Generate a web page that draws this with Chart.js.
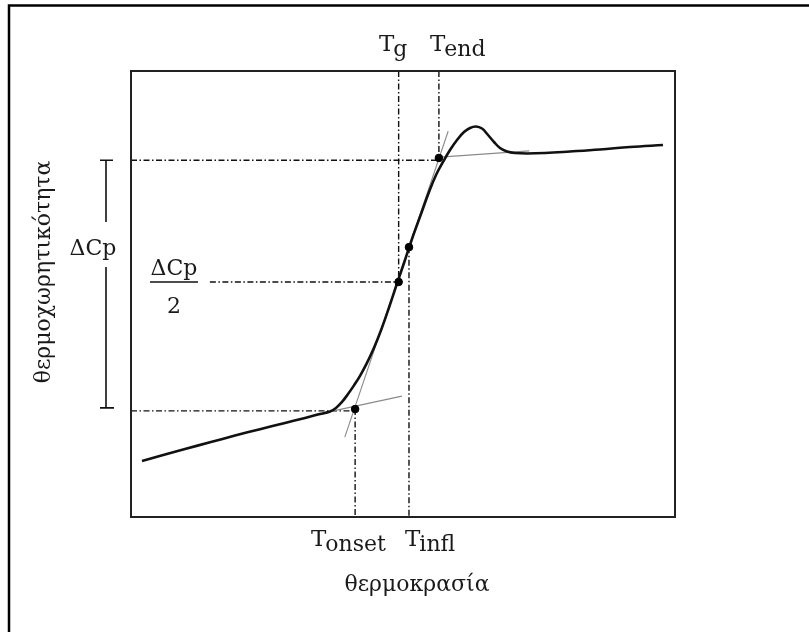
<!DOCTYPE html>
<html><head><meta charset="utf-8">
<script src="https://cdn.jsdelivr.net/npm/chart.js@4/dist/chart.umd.min.js"></script>
<style>html,body{margin:0;padding:0;background:#fff;}canvas{display:block;}</style>
</head><body>
<canvas id="c" width="809" height="632"></canvas>
<script>
// Arbitrary units: temperature 0..100 (x), heat capacity 0..100 (y)
const curveT  = [2.02, 6.25, 9.93, 14.52, 19.12, 23.71, 28.31, 31.99, 34.74, 36.58, 37.68, 38.79, 39.89, 40.99, 42.10, 43.38, 44.67, 45.96, 47.43, 48.90, 50.37, 51.84, 53.31, 54.78, 56.07, 57.35, 58.64, 59.93, 61.21, 62.32, 63.42, 64.52, 65.63, 66.73, 67.83, 69.12, 70.59, 72.79, 76.10, 80.70, 86.21, 91.73, 97.79];
const curveCp = [12.56, 14.00, 15.25, 16.75, 18.25, 19.70, 21.10, 22.20, 23.09, 23.65, 24.46, 25.81, 27.56, 29.51, 31.66, 34.56, 37.94, 41.86, 46.97, 52.35, 57.62, 63.00, 67.94, 72.87, 76.68, 79.60, 82.29, 84.53, 86.32, 87.22, 87.56, 87.10, 85.65, 84.08, 82.74, 81.95, 81.61, 81.50, 81.61, 81.95, 82.40, 82.96, 83.41];

// tangent lines (thin): [x0, y0, x1, y1]
const tangentInfl  = [39.3, 17.9, 58.3, 86.5];
const tangentLow   = [33.8, 22.9, 49.8, 27.1];
const tangentHigh  = [56.8, 80.7, 73.2, 82.1];

// characteristic temperatures & levels
const T_onset = 41.2, T_g = 49.2, T_infl = 51.1, T_end = 56.6;
const Cp_low = 23.8, Cp_half = 52.7, Cp_high = 80.0;
const Cp_onsetPt = 24.2, Cp_inflPt = 60.5, Cp_endPt = 80.5;
const halfLineStart = 14.5;

const pts = (xs, ys) => xs.map((x, i) => ({x, y: ys[i]}));
const seg = a => [{x:a[0], y:a[1]}, {x:a[2], y:a[3]}];

const guideStyle = {showLine:true, borderColor:'#111', borderWidth:1.4, borderDash:[6,2.5,1.5,2.5], pointRadius:0, order:3};
const tanStyle = {showLine:true, borderColor:'#8a8a8a', borderWidth:1.1, pointRadius:0, order:2};

const frame = {
  id:'frame',
  afterDraw(chart){
    const c = chart.ctx, a = chart.chartArea;
    const ys = chart.scales.y;
    c.save();
    // outer frame
    c.strokeStyle = '#000'; c.lineWidth = 2.5;
    c.beginPath(); c.moveTo(9, 632); c.lineTo(9, 5.5); c.lineTo(809, 5.5); c.stroke();
    // plot box
    c.strokeStyle = '#222'; c.lineWidth = 2;
    c.strokeRect(a.left, a.top, a.right - a.left, a.bottom - a.top);
    c.fillStyle = '#1a1a1a';
    c.textBaseline = 'alphabetic';
    const sub = (main, s, x, y) => {
      c.font = '23px "DejaVu Serif"'; c.textAlign = 'left';
      c.fillText(main, x, y);
      const w = c.measureText(main).width;
      c.font = '22px "DejaVu Serif"';
      c.fillText(s, x + w - 1, y + 5);
    };
    sub('T', 'g', 379, 51);
    sub('T', 'end', 430, 51);
    sub('T', 'onset', 311, 546);
    sub('T', 'infl', 405, 546);
    c.font = '22px "DejaVu Serif"'; c.textAlign = 'center';
    c.fillText('θερμοκρασία', 417, 591);
    c.save();
    c.translate(50, 272); c.rotate(-Math.PI/2);
    c.fillText('θερμοχωρητικότητα', 0, 0);
    c.restore();
    // ΔCp bracket
    const yHi = ys.getPixelForValue(Cp_high), yLo = ys.getPixelForValue(Cp_low);
    c.strokeStyle = '#111'; c.lineWidth = 1.6;
    c.beginPath();
    c.moveTo(106, yHi); c.lineTo(106, 222);
    c.moveTo(106, 267); c.lineTo(106, yLo - 3);
    c.moveTo(100, yHi); c.lineTo(113, yHi);
    c.moveTo(100, yLo - 3); c.lineTo(114, yLo - 3);
    c.stroke();
    c.fillText('ΔCp', 93, 255);
    // ΔCp / 2
    c.fillText('ΔCp', 174, 275);
    c.lineWidth = 1.5;
    c.beginPath(); c.moveTo(150, 282); c.lineTo(198, 282); c.stroke();
    c.fillText('2', 174, 313);
    c.restore();
  }
};

new Chart(document.getElementById('c'), {
  type:'scatter',
  data:{datasets:[
    {data:[{x:T_onset,y:Cp_onsetPt},{x:T_g,y:Cp_half},{x:T_infl,y:Cp_inflPt},{x:T_end,y:Cp_endPt}],
     pointRadius:3.8, pointBackgroundColor:'#000', pointBorderColor:'#000', showLine:false, order:0},
    {data:pts(curveT, curveCp), showLine:true, borderColor:'#111', borderWidth:2.6, pointRadius:0, tension:0.4, order:1},
    {data:seg(tangentInfl), ...tanStyle},
    {data:seg(tangentLow), ...tanStyle},
    {data:seg(tangentHigh), ...tanStyle},
    {data:[{x:0,y:Cp_high},{x:T_end,y:Cp_high}], ...guideStyle},
    {data:[{x:0,y:Cp_low},{x:T_onset,y:Cp_low}], ...guideStyle},
    {data:[{x:halfLineStart,y:Cp_half},{x:T_g,y:Cp_half}], ...guideStyle},
    {data:[{x:T_g,y:100},{x:T_g,y:Cp_half}], ...guideStyle},
    {data:[{x:T_end,y:100},{x:T_end,y:Cp_endPt}], ...guideStyle},
    {data:[{x:T_infl,y:Cp_inflPt},{x:T_infl,y:0}], ...guideStyle},
    {data:[{x:T_onset,y:Cp_onsetPt},{x:T_onset,y:0}], ...guideStyle}
  ]},
  options:{
    responsive:false, animation:false,
    layout:{padding:{left:131, top:71, right:134, bottom:115}},
    scales:{
      x:{type:'linear', min:0, max:100, display:false},
      y:{type:'linear', min:0, max:100, display:false}
    },
    plugins:{legend:{display:false}, tooltip:{enabled:false}}
  },
  plugins:[frame]
});
</script>
</body></html>
